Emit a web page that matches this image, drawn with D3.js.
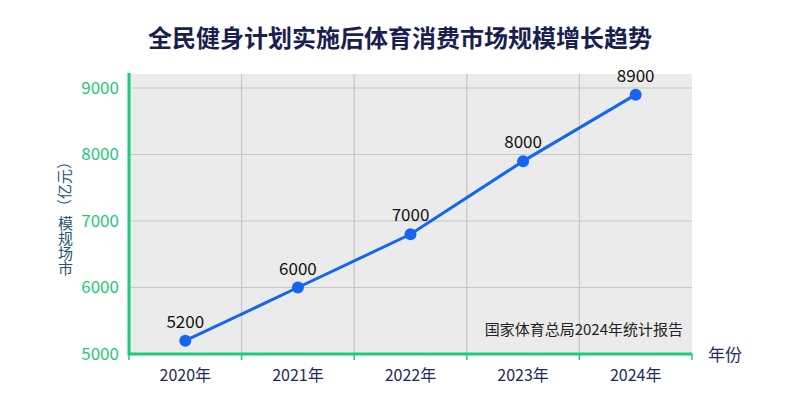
<!DOCTYPE html>
<meta charset="utf-8">
<title>体育消费市场规模</title>
<style>
    body { margin: 0; background: #fff; }
    text { font-family: "Noto Sans CJK SC", "Noto Sans", sans-serif; }
</style>
<svg width="800" height="400"></svg>
<script src="https://cdn.jsdelivr.net/npm/d3@7"></script>
<script>

    var years = ["2020年", "2021年", "2022年", "2023年", "2024年"];
    // where the points sit on the picture, and the numbers printed above them
    var values = [5200, 6000, 6800, 7900, 8900];
    var valueLabels = ["5200", "6000", "7000", "8000", "8900"];
    var yTicks = [5000, 6000, 7000, 8000, 9000];

    var svg = d3.select("svg"),
        plotLeft = 129, plotRight = 692, plotTop = 74, plotBottom = 354;

    var x = d3.scaleBand().domain(years).range([plotLeft, plotRight]).padding(0);
    var y = d3.scaleLinear().domain([5000, 9000]).range([plotBottom, 88]);

    var green = "#1ec97c", navy = "#1f2a5c";

    // plot background
    svg.append("rect")
        .attr("x", plotLeft).attr("y", plotTop)
        .attr("width", plotRight - plotLeft).attr("height", plotBottom - plotTop)
        .attr("fill", "#ebebeb");

    // grid
    svg.append("g").selectAll("line")
        .data(yTicks.slice(1))
        .enter().append("line")
            .attr("x1", plotLeft).attr("x2", plotRight)
            .attr("y1", function(d) { return y(d); })
            .attr("y2", function(d) { return y(d); })
            .attr("stroke", "#c6c6c6").attr("stroke-width", 1.2);

    svg.append("g").selectAll("line")
        .data(years.slice(1))
        .enter().append("line")
            .attr("x1", function(d) { return x(d); })
            .attr("x2", function(d) { return x(d); })
            .attr("y1", plotTop).attr("y2", plotBottom)
            .attr("stroke", "#c6c6c6").attr("stroke-width", 1.2);

    // x axis
    var xAxis = svg.append("g")
        .attr("transform", "translate(0," + plotBottom + ")")
        .call(d3.axisBottom(x).tickSize(0).tickPadding(16));
    xAxis.select(".domain").remove();
    xAxis.selectAll("text")
        .attr("fill", navy)
        .style("font-size", "16px");

    // x axis ticks at the band edges
    var edges = years.map(function(d) { return x(d); }).concat([plotRight]);
    svg.append("g").selectAll("line")
        .data(edges)
        .enter().append("line")
            .attr("x1", function(d) { return d; })
            .attr("x2", function(d) { return d; })
            .attr("y1", plotBottom).attr("y2", plotBottom + 6)
            .attr("stroke", green).attr("stroke-width", 1.5);

    svg.append("line")
        .attr("x1", plotLeft).attr("x2", plotRight)
        .attr("y1", plotBottom).attr("y2", plotBottom)
        .attr("stroke", green).attr("stroke-width", 3);

    // y axis
    var yAxis = svg.append("g")
        .attr("transform", "translate(" + plotLeft + ",0)")
        .call(d3.axisLeft(y).tickValues(yTicks).tickSize(0).tickPadding(10).tickFormat(d3.format("d")));
    yAxis.select(".domain").remove();
    yAxis.selectAll("text")
        .attr("fill", green)
        .style("font-size", "17px");

    svg.append("line")
        .attr("x1", plotLeft).attr("x2", plotLeft)
        .attr("y1", plotTop - 1).attr("y2", plotBottom + 1.5)
        .attr("stroke", green).attr("stroke-width", 3);

    // line + points
    var pts = years.map(function(d, i) { return [x(d) + x.bandwidth() / 2, y(values[i])]; });

    svg.append("path")
        .attr("d", d3.line()(pts))
        .attr("fill", "none")
        .attr("stroke", "#1565f0")
        .attr("stroke-width", 3);

    svg.append("g").selectAll("circle")
        .data(pts)
        .enter().append("circle")
            .attr("cx", function(d) { return d[0]; })
            .attr("cy", function(d) { return d[1]; })
            .attr("r", 6)
            .attr("fill", "#1565f0");

    svg.append("g").selectAll("text")
        .data(pts)
        .enter().append("text")
            .attr("x", function(d) { return d[0]; })
            .attr("y", function(d) { return d[1] - 13; })
            .attr("text-anchor", "middle")
            .attr("fill", "#111")
            .style("font-size", "17px")
            .text(function(d, i) { return valueLabels[i]; });

    // title
    svg.append("text")
        .attr("x", 400).attr("y", 47)
        .attr("text-anchor", "middle")
        .attr("fill", "#1a1f4f")
        .style("font-size", "24px")
        .style("font-weight", "bold")
        .text("全民健身计划实施后体育消费市场规模增长趋势");

    // y label: runs upward, first four glyphs turned back upright, unit left sideways
    svg.append("text")
        .attr("transform", "translate(58,274) rotate(-90)")
        .attr("rotate", "90 90 90 90 0 0 0 0")
        .attr("dy", "0 0 0 0 12 0 0 0")
        .attr("fill", "#2a5472")
        .style("font-size", "15px")
        .text("市场规模（亿元）");

    // x label
    svg.append("text")
        .attr("x", 708).attr("y", 361)
        .attr("fill", navy)
        .style("font-size", "17px")
        .text("年份");

    // source note
    svg.append("text")
        .attr("x", 683).attr("y", 335)
        .attr("text-anchor", "end")
        .attr("fill", "#222")
        .style("font-size", "15px")
        .text("国家体育总局2024年统计报告");

</script>
